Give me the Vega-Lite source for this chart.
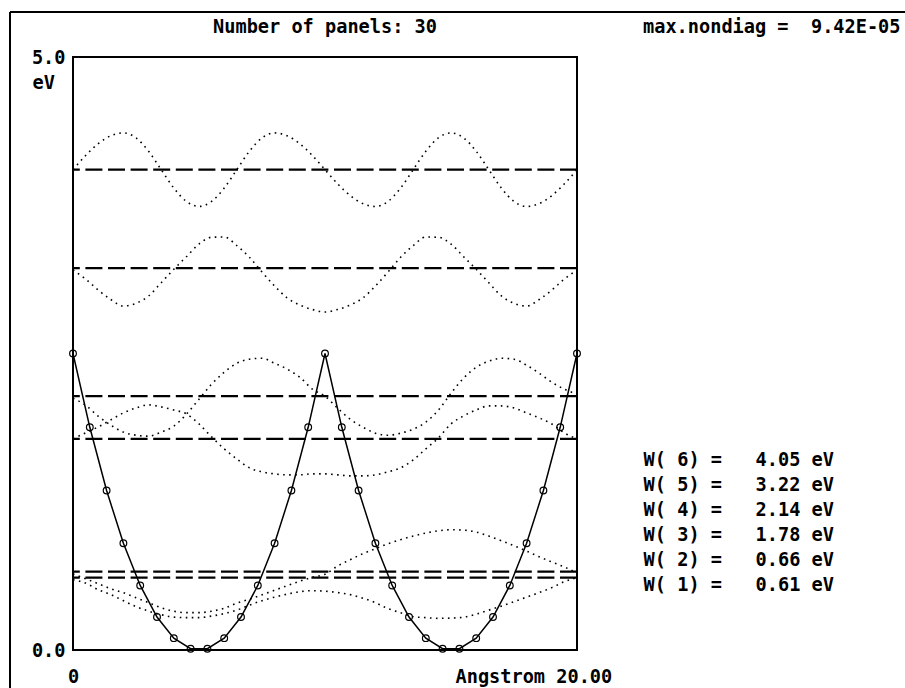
{
"$schema":"https://vega.github.io/schema/vega-lite/v6.json",
"width":504,"height":593,
"autosize":{"type":"none"},
"padding":{"left":73,"top":57,"right":328,"bottom":38},
"background":"white",
"config":{
 "view":{"stroke":"black","strokeWidth":2},
 "axis":{"grid":false,"ticks":false,"tickSize":0,"domain":false,"labelFont":"DejaVu Sans Mono","labelFontSize":18.6,"labelFontWeight":"bold","labelColor":"black","titleFont":"DejaVu Sans Mono","titleFontSize":18.6,"titleFontWeight":"bold","titleColor":"black"}
},
"datasets":{
 "pot":[
  {"x":0,"V":2.5},{"x":0.6667,"V":1.8778},{"x":1.3333,"V":1.3444},{"x":2,"V":0.9},{"x":2.6667,"V":0.5444},{"x":3.3333,"V":0.2778},{"x":4,"V":0.1},{"x":4.6667,"V":0.0111},{"x":5.3333,"V":0.0111},{"x":6,"V":0.1},{"x":6.6667,"V":0.2778},{"x":7.3333,"V":0.5444},{"x":8,"V":0.9},{"x":8.6667,"V":1.3444},{"x":9.3333,"V":1.8778},{"x":10,"V":2.5},
  {"x":10.6667,"V":1.8778},{"x":11.3333,"V":1.3444},{"x":12,"V":0.9},{"x":12.6667,"V":0.5444},{"x":13.3333,"V":0.2778},{"x":14,"V":0.1},{"x":14.6667,"V":0.0111},{"x":15.3333,"V":0.0111},{"x":16,"V":0.1},{"x":16.6667,"V":0.2778},{"x":17.3333,"V":0.5444},{"x":18,"V":0.9},{"x":18.6667,"V":1.3444},{"x":19.3333,"V":1.8778},{"x":20,"V":2.5}
 ],
 "lev":[
  {"n":6,"E":4.05,"label":"W( 6) =\u00a0\u00a0\u00a04.05 eV"},
  {"n":5,"E":3.22,"label":"W( 5) =\u00a0\u00a0\u00a03.22 eV"},
  {"n":4,"E":2.14,"label":"W( 4) =\u00a0\u00a0\u00a02.14 eV"},
  {"n":3,"E":1.78,"label":"W( 3) =\u00a0\u00a0\u00a01.78 eV"},
  {"n":2,"E":0.66,"label":"W( 2) =\u00a0\u00a0\u00a00.66 eV"},
  {"n":1,"E":0.61,"label":"W( 1) =\u00a0\u00a0\u00a00.61 eV"}
 ],
 "wf":[
  {"x":0,"w1":0.593,"w2":0.641,"w3":1.780,"w4":2.123,"w5":3.204,"w6":4.05},
  {"x":0.5,"w1":0.564,"w2":0.601,"w3":1.831,"w4":2.064,"w5":3.128,"w6":4.169},
  {"x":1,"w1":0.509,"w2":0.559,"w3":1.881,"w4":1.971,"w5":3.035,"w6":4.269},
  {"x":1.5,"w1":0.467,"w2":0.517,"w3":1.940,"w4":1.896,"w5":2.955,"w6":4.336},
  {"x":2,"w1":0.416,"w2":0.483,"w3":1.999,"w4":1.837,"w5":2.900,"w6":4.36},
  {"x":2.5,"w1":0.366,"w2":0.441,"w3":2.041,"w4":1.811,"w5":2.923,"w6":4.318},
  {"x":3,"w1":0.328,"w2":0.399,"w3":2.067,"w4":1.803,"w5":2.985,"w6":4.205},
  {"x":3.5,"w1":0.298,"w2":0.357,"w3":2.050,"w4":1.837,"w5":3.097,"w6":4.05},
  {"x":4,"w1":0.277,"w2":0.327,"w3":2.024,"w4":1.887,"w5":3.21,"w6":3.895},
  {"x":4.5,"w1":0.273,"w2":0.315,"w3":1.991,"w4":1.988,"w5":3.316,"w6":3.782},
  {"x":5,"w1":0.273,"w2":0.315,"w3":1.906,"w4":2.115,"w5":3.423,"w6":3.74},
  {"x":5.5,"w1":0.286,"w2":0.327,"w3":1.797,"w4":2.241,"w5":3.48,"w6":3.782},
  {"x":6,"w1":0.307,"w2":0.352,"w3":1.696,"w4":2.342,"w5":3.482,"w6":3.895},
  {"x":6.5,"w1":0.336,"w2":0.395,"w3":1.611,"w4":2.418,"w5":3.41,"w6":4.05},
  {"x":7,"w1":0.378,"w2":0.428,"w3":1.536,"w4":2.452,"w5":3.311,"w6":4.205},
  {"x":7.5,"w1":0.416,"w2":0.466,"w3":1.502,"w4":2.460,"w5":3.187,"w6":4.318},
  {"x":8,"w1":0.446,"w2":0.504,"w3":1.485,"w4":2.418,"w5":3.069,"w6":4.36},
  {"x":8.5,"w1":0.471,"w2":0.542,"w3":1.477,"w4":2.368,"w5":2.968,"w6":4.336},
  {"x":9,"w1":0.492,"w2":0.580,"w3":1.477,"w4":2.300,"w5":2.909,"w6":4.269},
  {"x":9.5,"w1":0.500,"w2":0.614,"w3":1.485,"w4":2.199,"w5":2.871,"w6":4.169},
  {"x":10,"w1":0.496,"w2":0.639,"w3":1.485,"w4":2.140,"w5":2.85,"w6":4.05},
  {"x":10.5,"w1":0.484,"w2":0.708,"w3":1.477,"w4":2.039,"w5":2.871,"w6":3.931},
  {"x":11,"w1":0.467,"w2":0.761,"w3":1.468,"w4":1.946,"w5":2.909,"w6":3.831},
  {"x":11.5,"w1":0.437,"w2":0.812,"w3":1.468,"w4":1.879,"w5":2.968,"w6":3.764},
  {"x":12,"w1":0.399,"w2":0.854,"w3":1.477,"w4":1.828,"w5":3.069,"w6":3.74},
  {"x":12.5,"w1":0.349,"w2":0.896,"w3":1.502,"w4":1.811,"w5":3.187,"w6":3.782},
  {"x":13,"w1":0.315,"w2":0.930,"w3":1.536,"w4":1.828,"w5":3.311,"w6":3.895},
  {"x":13.5,"w1":0.281,"w2":0.961,"w3":1.603,"w4":1.862,"w5":3.41,"w6":4.05},
  {"x":14,"w1":0.273,"w2":0.986,"w3":1.696,"w4":1.921,"w5":3.482,"w6":4.205},
  {"x":14.5,"w1":0.267,"w2":1.005,"w3":1.788,"w4":2.022,"w5":3.48,"w6":4.318},
  {"x":15,"w1":0.269,"w2":1.014,"w3":1.906,"w4":2.165,"w5":3.423,"w6":4.36},
  {"x":15.5,"w1":0.277,"w2":1.011,"w3":1.974,"w4":2.292,"w5":3.316,"w6":4.318},
  {"x":16,"w1":0.302,"w2":0.995,"w3":2.024,"w4":2.384,"w5":3.21,"w6":4.205},
  {"x":16.5,"w1":0.336,"w2":0.961,"w3":2.058,"w4":2.435,"w5":3.097,"w6":4.05},
  {"x":17,"w1":0.370,"w2":0.921,"w3":2.058,"w4":2.460,"w5":2.985,"w6":3.895},
  {"x":17.5,"w1":0.408,"w2":0.879,"w3":2.041,"w4":2.452,"w5":2.923,"w6":3.782},
  {"x":18,"w1":0.446,"w2":0.834,"w3":1.999,"w4":2.401,"w5":2.900,"w6":3.74},
  {"x":18.5,"w1":0.484,"w2":0.786,"w3":1.957,"w4":2.334,"w5":2.955,"w6":3.764},
  {"x":19,"w1":0.526,"w2":0.742,"w3":1.906,"w4":2.258,"w5":3.035,"w6":3.831},
  {"x":19.5,"w1":0.576,"w2":0.700,"w3":1.831,"w4":2.199,"w5":3.128,"w6":3.931},
  {"x":20,"w1":0.610,"w2":0.649,"w3":1.780,"w4":2.157,"w5":3.204,"w6":4.05}
 ]
},
"layer":[
 {
  "data":{"name":"wf"},
  "transform":[{"fold":["w1","w2","w3","w4","w5","w6"],"as":["n","y"]}],
  "mark":{"type":"line","stroke":"black","strokeWidth":1.6,"strokeDash":[1.6,4.4],"interpolate":"monotone"},
  "encoding":{
   "x":{"field":"x","type":"quantitative","scale":{"domain":[0,20],"nice":false,"zero":false},
        "axis":{"values":[0],"format":"d","labelFlush":false,"labelBaseline":"alphabetic","labelPadding":32,
                "title":"Angstrom 20.00","titleX":382,"titleY":32,"titleAlign":"left","titleBaseline":"alphabetic","titleAnchor":"start"}},
   "y":{"field":"y","type":"quantitative","scale":{"domain":[0,5],"nice":false,"zero":false},
        "axis":{"values":[0,5],"format":".1f","labelPadding":8,
                "title":"eV","titleAngle":0,"titleAlign":"left","titleBaseline":"alphabetic","titleX":-41,"titleY":31}},
   "detail":{"field":"n"}
  }
 },
 {
  "data":{"name":"lev"},
  "mark":{"type":"rule","strokeWidth":2.2,"strokeDash":[17,5.6]},
  "encoding":{
   "y":{"field":"E","type":"quantitative","scale":{"domain":[0,5]}},
   "color":{"field":"label","type":"nominal","sort":"descending","scale":{"range":["black"]},
     "legend":{"orient":"none","legendX":552,"legendY":394,"title":null,"symbolSize":0,"symbolOpacity":0,"labelOffset":0,
       "labelFont":"DejaVu Sans Mono","labelFontSize":18.6,"labelFontWeight":"bold","labelColor":"black","labelLimit":400,"rowPadding":6,"padding":0}}
  }
 },
 {
  "data":{"name":"pot"},
  "mark":{"type":"line","stroke":"black","strokeWidth":1.5},
  "encoding":{
   "x":{"field":"x","type":"quantitative","scale":{"domain":[0,20]}},
   "y":{"field":"V","type":"quantitative","scale":{"domain":[0,5]}}
  }
 },
 {
  "data":{"name":"pot"},
  "mark":{"type":"point","shape":"circle","filled":false,"size":45,"stroke":"black","strokeWidth":1.2,"opacity":1},
  "encoding":{
   "x":{"field":"x","type":"quantitative","scale":{"domain":[0,20]}},
   "y":{"field":"V","type":"quantitative","scale":{"domain":[0,5]}}
  }
 },
 {
  "data":{"values":[{}]},
  "mark":{"type":"rule","stroke":"black","strokeWidth":2},
  "encoding":{
   "x":{"datum":-2.5,"type":"quantitative","scale":{"domain":[0,20]}},
   "y":{"datum":-0.5,"type":"quantitative","scale":{"domain":[0,5]}},
   "y2":{"datum":5.38}
  }
 },
 {
  "data":{"values":[{}]},
  "mark":{"type":"rule","stroke":"black","strokeWidth":2},
  "encoding":{
   "y":{"datum":5.38,"type":"quantitative","scale":{"domain":[0,5]}},
   "x":{"datum":-2.5,"type":"quantitative","scale":{"domain":[0,20]}},
   "x2":{"datum":33.5}
  }
 },
 {
  "data":{"values":[{}]},
  "mark":{"type":"text","font":"DejaVu Sans Mono","fontSize":18.6,"fontWeight":"bold","color":"black","align":"center","baseline":"alphabetic","text":"Number of panels: 30"},
  "encoding":{
   "x":{"datum":10,"type":"quantitative","scale":{"domain":[0,20]}},
   "y":{"datum":5.2025,"type":"quantitative","scale":{"domain":[0,5]}}
  }
 },
 {
  "data":{"values":[{}]},
  "mark":{"type":"text","font":"DejaVu Sans Mono","fontSize":18.6,"fontWeight":"bold","color":"black","align":"left","baseline":"alphabetic","text":"max.nondiag =\u00a0\u00a09.42E-05"},
  "encoding":{
   "x":{"datum":22.62,"type":"quantitative","scale":{"domain":[0,20]}},
   "y":{"datum":5.2025,"type":"quantitative","scale":{"domain":[0,5]}}
  }
 }
]
}
